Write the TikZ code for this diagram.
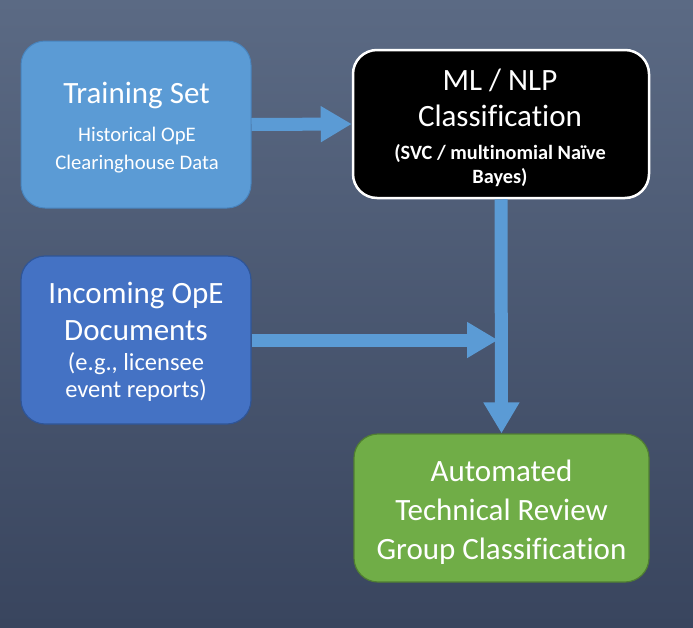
\documentclass[tikz,border=0pt]{standalone}
\usepackage{fontspec}
\setmainfont{Carlito}[Ligatures=NoCommon]
\usetikzlibrary{arrows.meta}
\definecolor{bgtop}{RGB}{91,106,132}
\definecolor{bgbot}{RGB}{57,69,94}
\definecolor{lblue}{RGB}{91,155,213}
\definecolor{lbluedark}{RGB}{72,132,190}
\definecolor{dblue}{RGB}{68,114,196}
\definecolor{dbluedark}{RGB}{47,85,151}
\definecolor{green}{RGB}{112,173,71}
\definecolor{greendark}{RGB}{80,126,50}
\tikzset{
  box/.style={rectangle, rounded corners=24pt, inner sep=0pt},
  txt/.style={text=white, inner sep=0pt, anchor=base},
  bigtxt/.style={txt, font=\fontsize{31}{37}\selectfont},
  subbold/.style={txt, font=\fontsize{20.3}{24}\selectfont\bfseries},
  subsmall/.style={txt, font=\fontsize{20.7}{24}\selectfont},
  subreg/.style={txt, font=\fontsize{24.5}{28}\selectfont},
  bigarrow/.style={draw=lblue, line width=13pt, -{Triangle[width=34pt,length=31pt]}},
}
\begin{document}
\begin{tikzpicture}[x=1pt,y=-1pt]
\shade[top color=bgtop,bottom color=bgbot] (0,0) rectangle (693,627);
\useasboundingbox (0,0) rectangle (693,627);

\node[box, fill=lblue, draw=lbluedark, line width=1pt, minimum width=230pt, minimum height=167pt] (train) at (136,124.5) {};
\node[box, fill=black, draw=white, line width=2.5pt, minimum width=296pt, minimum height=148pt] (ml) at (501,124) {};
\node[box, fill=dblue, draw=dbluedark, line width=1.2pt, minimum width=230pt, minimum height=168pt] (inc) at (136,340) {};
\node[box, fill=green, draw=greendark, line width=1.2pt, minimum width=295pt, minimum height=148pt] (out) at (501.5,508) {};

% texts
\node[bigtxt] (t1) at (136.5,103.3) {Training Set};
\node[subsmall] (t2) at (137,141.7) {Historical OpE};
\node[subsmall] (t3) at (137,169.3) {Clearinghouse Data};

\node[bigtxt] (m1) at (500,90.7) {ML / NLP};
\node[bigtxt] (m2) at (500,126.7) {Classification};
\node[subbold] (m3) at (500,159.3) {(SVC / multinomial Naïve};
\node[subbold] (m4) at (500,183.3) {Bayes)};

\node[bigtxt] (i1) at (136,303.3) {Incoming OpE};
\node[bigtxt] (i2) at (136,340.5) {Documents};
\node[subreg] (i3) at (136,370) {(e.g., licensee};
\node[subreg] (i4) at (136,397) {event reports)};

\node[bigtxt] (o1) at (501.5,481.5) {Automated};
\node[bigtxt] (o2) at (501.5,520.5) {Technical Review};
\node[bigtxt] (o3) at (501.5,559.3) {Group Classification};

\coordinate (join) at (ml.south |- inc.east);

\draw[bigarrow] (train.east) -- (ml.west);
\draw[bigarrow] (ml.south) -- (out.north);
\draw[bigarrow] (inc.east) -- ([xshift=-3pt]join);
\end{tikzpicture}
\end{document}
